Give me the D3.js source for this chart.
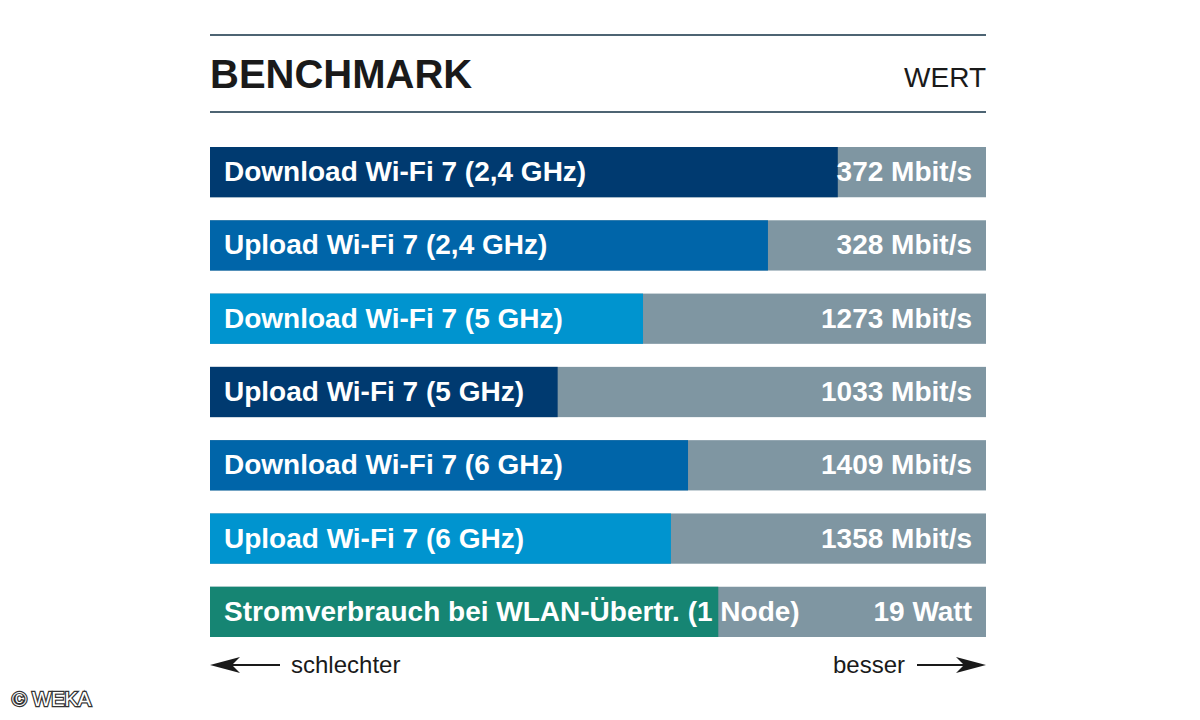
<!DOCTYPE html>
<html><head><meta charset="utf-8">
<script src="https://cdn.jsdelivr.net/npm/d3@7.9.0/dist/d3.min.js"></script>
<style>body{margin:0;background:#fff}</style>
</head><body>
<svg id="chart" width="1200" height="720"></svg>
<script>
const labels = ["Download Wi-Fi 7 (2,4 GHz)", "Upload Wi-Fi 7 (2,4 GHz)", "Download Wi-Fi 7 (5 GHz)",
  "Upload Wi-Fi 7 (5 GHz)", "Download Wi-Fi 7 (6 GHz)", "Upload Wi-Fi 7 (6 GHz)",
  "Stromverbrauch bei WLAN-Übertr. (1 Node)"];
const values = ["372 Mbit/s", "328 Mbit/s", "1273 Mbit/s", "1033 Mbit/s", "1409 Mbit/s", "1358 Mbit/s", "19 Watt"];
// filled share of each bar
const shares = [0.809, 0.719, 0.558, 0.448, 0.616, 0.594, 0.655];
const colors = ["#003a70", "#0065a9", "#0094cf", "#003a70", "#0065a9", "#0094cf", "#168573"];

const svg = d3.select("#chart");
const left = 210, right = 986;
const narrow = "'Liberation Sans Narrow', 'Arial Narrow', sans-serif";

const x = d3.scaleLinear().domain([0, 1]).range([left, right]);
const y = d3.scaleBand().domain(d3.range(labels.length)).range([147, 147 + 70 * 7]).paddingInner(22 / 70).paddingOuter(0);

[35, 112].forEach(yy => svg.append("line").attr("x1", left).attr("x2", right)
  .attr("y1", yy).attr("y2", yy).attr("stroke", "#4d6473").attr("stroke-width", 2));

svg.append("text").attr("x", left).attr("y", 88).text("BENCHMARK")
  .attr("font-family", "Liberation Sans, Arial, sans-serif").attr("font-weight", "bold")
  .attr("font-size", 40).attr("fill", "#1a1a1a");
svg.append("text").attr("x", right).attr("y", 87).attr("text-anchor", "end").text("WERT")
  .attr("font-family", "Liberation Sans, Arial, sans-serif").attr("font-size", 28).attr("fill", "#1a1a1a");

const g = svg.selectAll("g.bar").data(labels).join("g").attr("class", "bar");
g.append("rect").attr("x", left).attr("y", (d, i) => y(i)).attr("width", right - left)
  .attr("height", y.bandwidth()).attr("fill", "#7f96a2");
g.append("rect").attr("x", left).attr("y", (d, i) => y(i)).attr("width", (d, i) => x(shares[i]) - left)
  .attr("height", y.bandwidth()).attr("fill", (d, i) => colors[i]);
g.append("text").attr("x", left + 14).attr("y", (d, i) => y(i) + y.bandwidth() / 2 + 9).text(d => d)
  .attr("font-family", narrow).attr("font-weight", "bold").attr("font-size", 28).attr("fill", "#fff");
g.append("text").attr("x", right - 14).attr("y", (d, i) => y(i) + y.bandwidth() / 2 + 9)
  .attr("text-anchor", "end").text((d, i) => values[i])
  .attr("font-family", narrow).attr("font-weight", "bold").attr("font-size", 28).attr("fill", "#fff");

// arrows
const ay = 665;
svg.append("line").attr("x1", 225).attr("x2", 280).attr("y1", ay).attr("y2", ay).attr("stroke", "#1a1a1a").attr("stroke-width", 2);
svg.append("path").attr("d", `M${left},${ay} L${left + 30},${ay - 8} L${left + 22},${ay} L${left + 30},${ay + 8}Z`).attr("fill", "#1a1a1a");
svg.append("line").attr("x1", 917).attr("x2", 972).attr("y1", ay).attr("y2", ay).attr("stroke", "#1a1a1a").attr("stroke-width", 2);
svg.append("path").attr("d", `M${right},${ay} L${right - 30},${ay - 8} L${right - 22},${ay} L${right - 30},${ay + 8}Z`).attr("fill", "#1a1a1a");
svg.append("text").attr("x", 291).attr("y", ay + 8).text("schlechter")
  .attr("font-family", narrow).attr("font-size", 24).attr("fill", "#1a1a1a");
svg.append("text").attr("x", 905).attr("y", ay + 8).attr("text-anchor", "end").text("besser")
  .attr("font-family", narrow).attr("font-size", 24).attr("fill", "#1a1a1a");

svg.append("text").attr("x", 12).attr("y", 706).text("© WEKA")
  .attr("font-family", "Liberation Sans, Arial, sans-serif").attr("font-size", 20)
  .attr("fill", "#fff").attr("stroke", "#333").attr("stroke-width", 2.5).attr("paint-order", "stroke");
</script>
</body></html>
